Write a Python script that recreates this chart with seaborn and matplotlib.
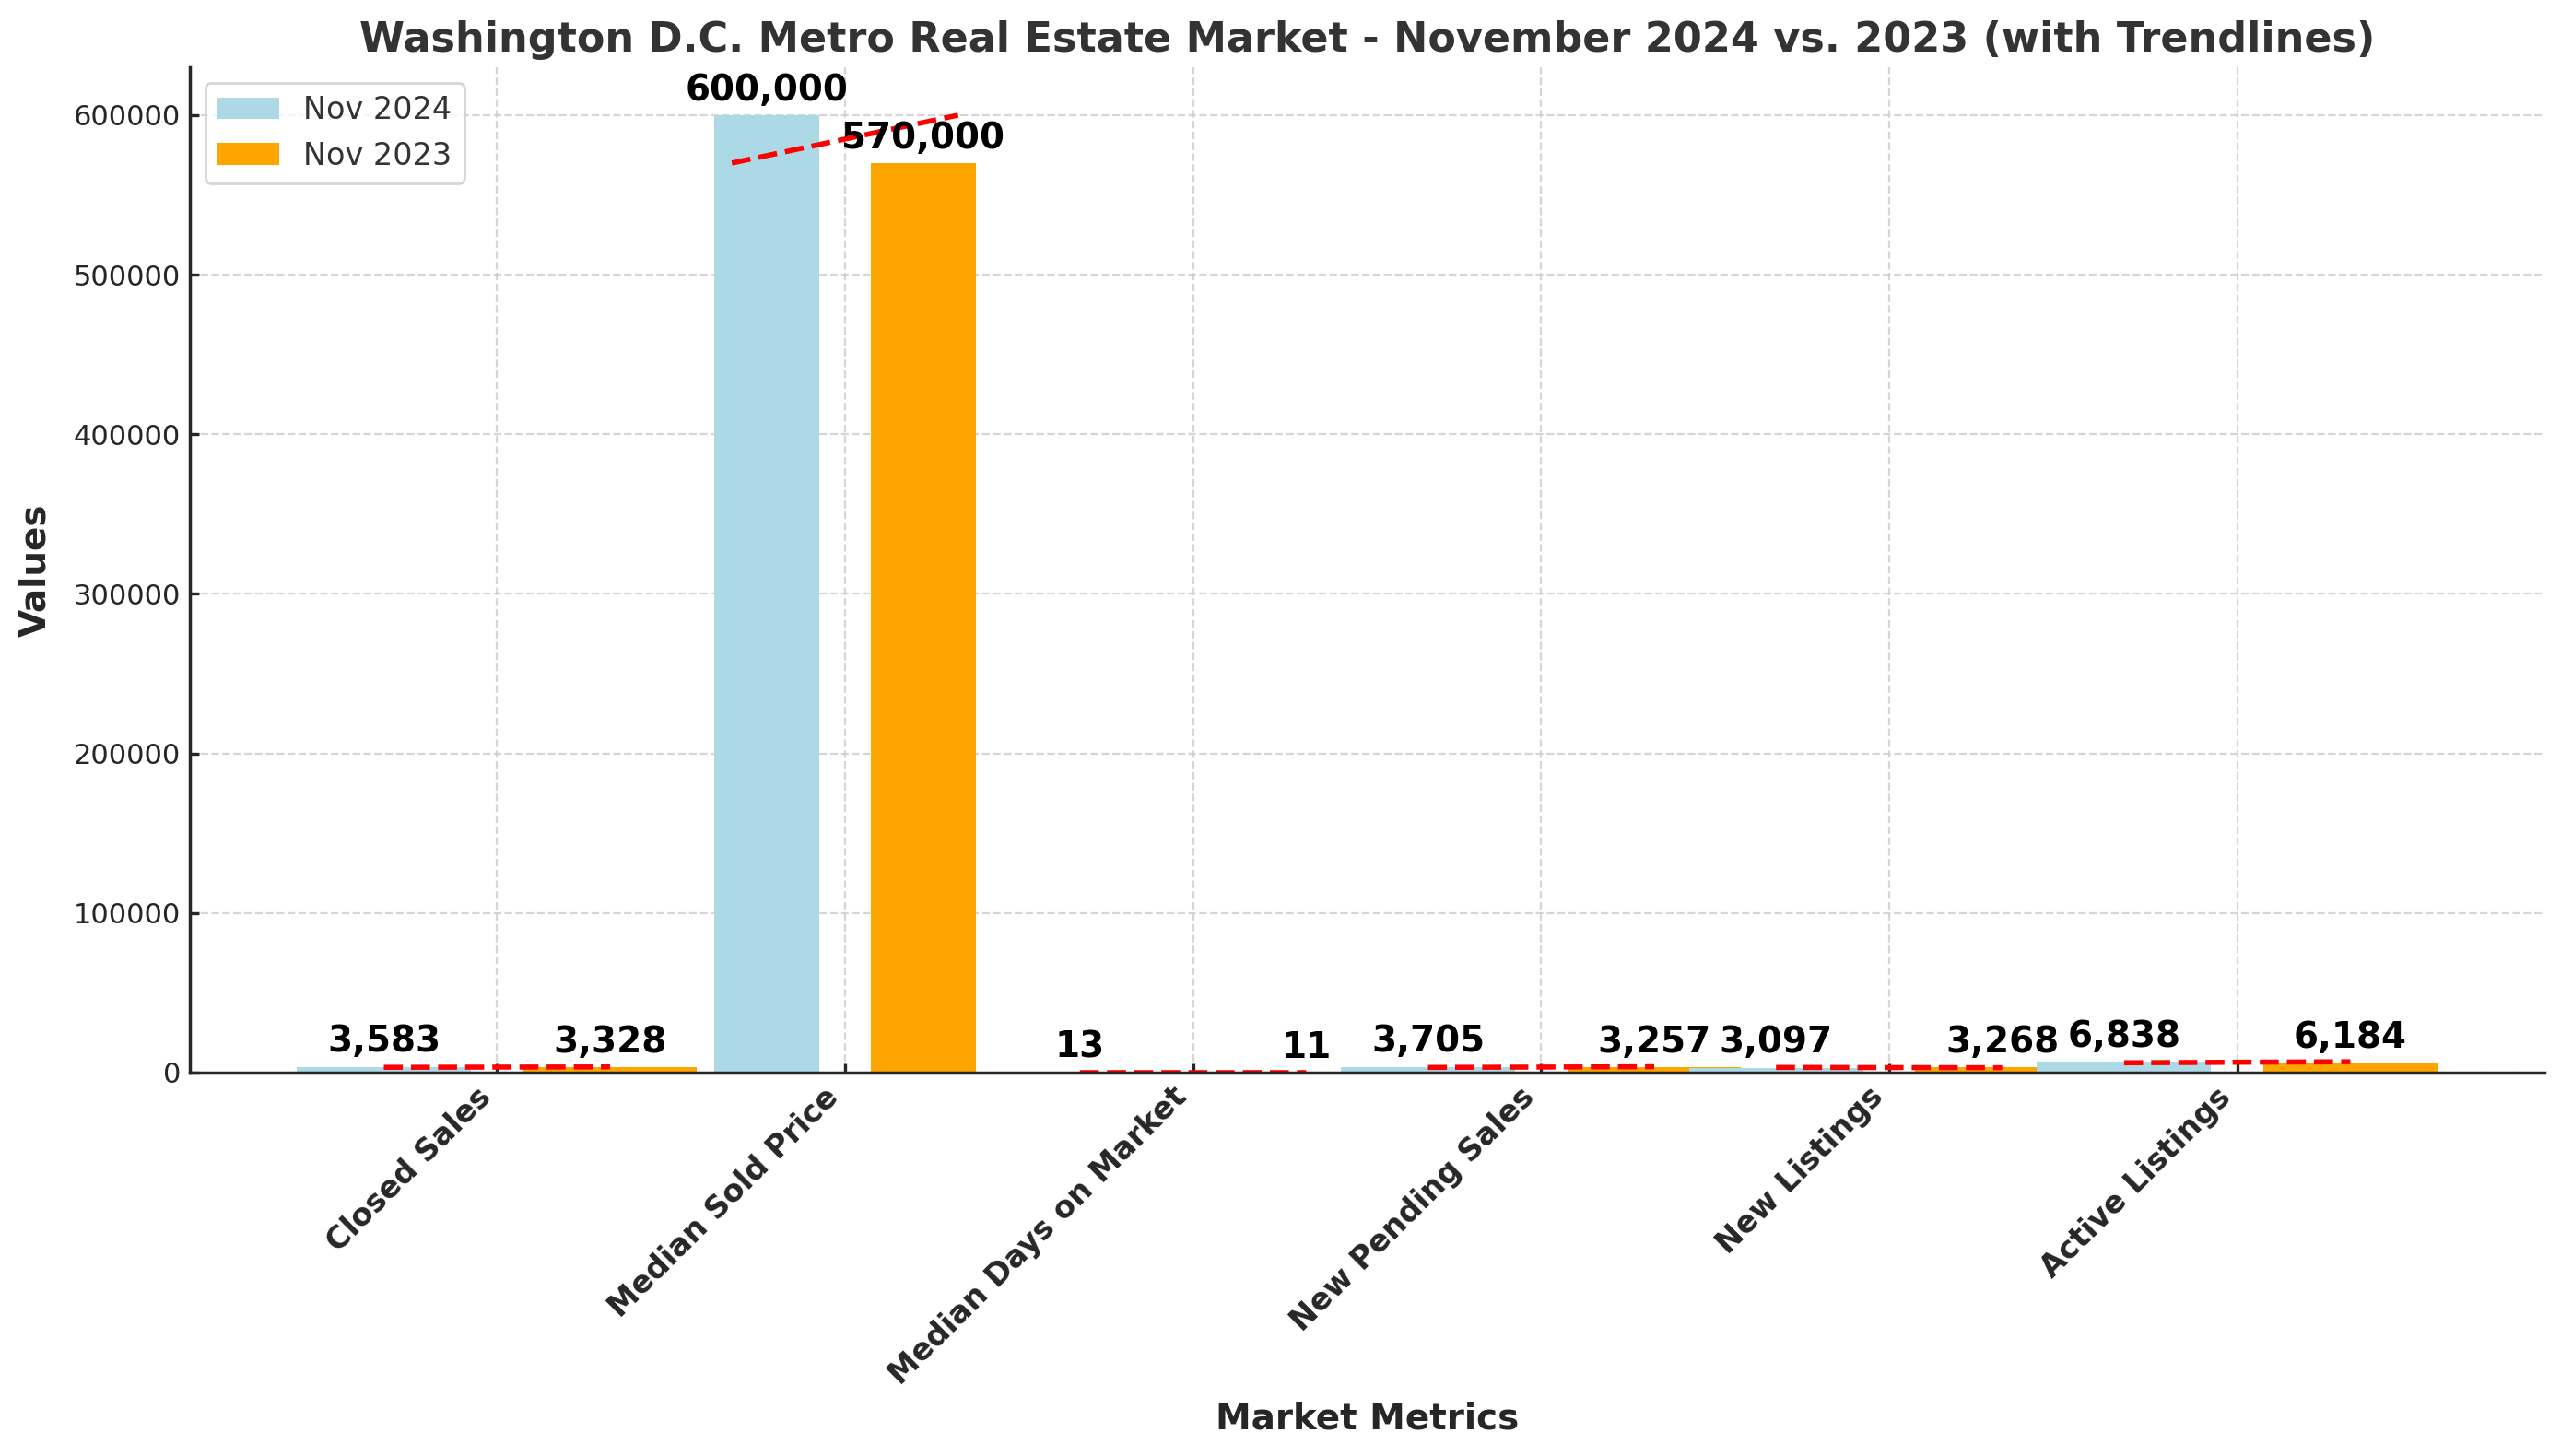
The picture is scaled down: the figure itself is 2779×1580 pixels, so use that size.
import pandas as pd
import matplotlib.pyplot as plt
import seaborn as sns

# data
metrics = ['Closed Sales', 'Median Sold Price', 'Median Days on Market',
           'New Pending Sales', 'New Listings', 'Active Listings']
periods = ['Nov 2024', 'Nov 2023']
nov_2024 = [3583, 600000, 13, 3705, 3097, 6838]
nov_2023 = [3328, 570000, 11, 3257, 3268, 6184]

df = pd.DataFrame({
    'Metric': metrics * 2,
    'Period': ['Nov 2024'] * len(metrics) + ['Nov 2023'] * len(metrics),
    'Value': nov_2024 + nov_2023,
})

sns.set_theme(style='whitegrid')
plt.rcParams['font.family'] = ['DejaVu Sans']
plt.rcParams['axes.edgecolor'] = '.15'

colors = {'Nov 2024': 'lightblue', 'Nov 2023': 'orange'}

fig, ax = plt.subplots(figsize=(13.895, 7.9), dpi=200)
fig.subplots_adjust(left=0.0741, right=0.9935, top=0.9538, bottom=0.2633)

big = df['Metric'] == 'Median Sold Price'
sns.barplot(data=df[~big], x='Metric', y='Value', hue='Period',
            order=metrics, hue_order=periods, palette=colors, saturation=1,
            width=1.3, gap=0.2308, linewidth=0, errorbar=None, ax=ax)
sns.barplot(data=df[big], x='Metric', y='Value', hue='Period',
            order=metrics, hue_order=periods, palette=colors, saturation=1,
            width=0.9, gap=1 / 3, linewidth=0, errorbar=None, legend=False, ax=ax)

# blue bars sit on top where neighbours overlap
for c in ax.containers:
    for p in c.patches:
        if p.get_facecolor()[2] < 0.5:
            p.set_zorder(0.9)
    ax.bar_label(c, fmt='{:,.0f}', padding=3, fontsize=14, fontweight='bold', color='black')

# trendlines (2023 -> 2024)
off = 0.325
for i, (a, b) in enumerate(zip(nov_2024, nov_2023)):
    ax.plot([i - off, i + off], [b, a], color='red', linestyle='--', linewidth=2)

ax.autoscale(enable=True, axis='x')
ax.grid(True, axis='both', linestyle='--', color='#cccccc', linewidth=0.8, alpha=0.8)
ax.set_axisbelow(True)
sns.despine(ax=ax)

ax.tick_params(axis='both', direction='in', length=3.5, width=1.2, color='.15',
               left=True, bottom=True)
ax.tick_params(axis='y', labelsize=11)
plt.setp(ax.get_xticklabels(), rotation=45, ha='right', fontweight='bold', fontsize=12)

ax.set_title('Washington D.C. Metro Real Estate Market - November 2024 vs. 2023 (with Trendlines)',
             fontsize=16, fontweight='bold', color='#333333')
ax.set_xlabel('Market Metrics', fontsize=14, fontweight='bold')
ax.set_ylabel('Values', fontsize=14, fontweight='bold', labelpad=8)

sns.move_legend(ax, 'upper left', title=None, fontsize=12)
for t in ax.get_legend().get_texts():
    t.set_color('#333333')

fig.savefig('out.png', dpi=200)
